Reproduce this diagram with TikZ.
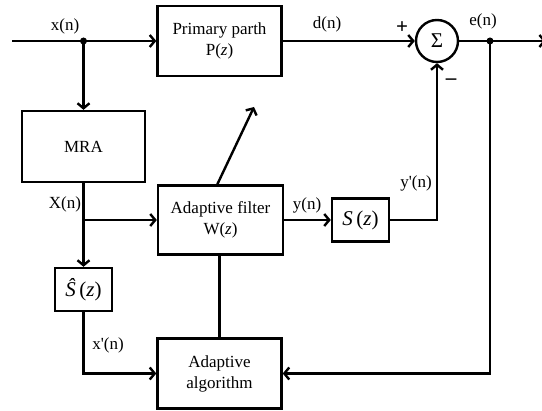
\documentclass[tikz,border=0pt]{standalone}
\usepackage{fontspec}
\setmainfont{Liberation Serif}
\usetikzlibrary{arrows.meta}
\begin{document}
\begin{tikzpicture}[x=1pt,y=-1pt, line width=2.4pt,
  >={Straight Barb[length=5pt,width=12pt]},
  box/.style={draw, line width=2.4pt, inner sep=0pt, align=center, font=\fontsize{17}{21}\selectfont},
  lbl/.style={font=\fontsize{17}{20}\selectfont, inner sep=0pt},
  mth/.style={font=\fontsize{21}{24}\selectfont},
  sgn/.style={font=\bfseries\fontsize{21}{21}\selectfont, inner sep=0pt},
  dot/.style={circle, fill, inner sep=0pt, minimum size=7pt}]
\useasboundingbox (0,0) rectangle (542,411);
% blocks
\node[box, minimum width=124pt, minimum height=70pt] (prim) at (219.5,41) {Primary parth\\P(\textit{z})};
\node[box, circle, minimum size=42pt, font=\fontsize{21}{21}\selectfont] (sum) at (437,41) {Σ};
\node[box, minimum width=123pt, minimum height=71pt] (mra) at (83.5,146.5) {MRA};
\node[box, minimum width=125pt, minimum height=69pt] (filt) at (220.5,220) {Adaptive filter\\W(\textit{z})};
\node[box, mth, minimum width=57pt, minimum height=43pt] (sbox) at (360.5,220) {\textit{S}\,(\textit{z})};
\node[box, mth, minimum width=57pt, minimum height=43pt] (shat) at (83.5,289.5) {\textit{Ŝ}\,(\textit{z})};
\node[box, minimum width=124pt, minimum height=70pt] (algo) at (219.5,373.5) {Adaptive\\algorithm};
% junctions and free ends
\coordinate (in) at (12,41);
\node[dot] (j1) at (83.5,41) {};
\node[dot] (j3) at (490,41) {};
\coordinate (j2) at (83.5,220);
\coordinate (out) at (546,41);
\coordinate (dA) at (217,185);
\coordinate (dB) at (254,107);
% connectors
\draw[->] (in) -- (prim.west);
\draw[->] (j1.center) -- (mra.north);
\draw[->] (prim.east) -- (sum.west);
\draw[->] (sum.east) -- (out);
\draw[->] (j3.center) |- (algo.east);
\draw[->] (mra.south) -- (shat.north);
\draw[->] (j2) -- (filt.west);
\draw[->] (filt.east) -- (sbox.west);
\draw[->] (sbox.east) -| (sum.south);
\draw[->] (shat.south) |- (algo.west);
\draw (algo.north) -- (algo.north |- filt.south);
\draw[->] (dA) -- (dB);
% labels
\node[lbl] (lx) at (65,26) {x(n)};
\node[lbl] (ld) at (327,24) {d(n)};
\node[lbl] (le) at (483,21) {e(n)};
\node[sgn] (lp) at (402,28) {+};
\node[sgn] (lm) at (451,82) {\textendash};
\node[lbl] (lyp) at (416,183) {y\textquotesingle(n)};
\node[lbl] (lX) at (65,204) {X(n)};
\node[lbl] (ly) at (307,205) {y(n)};
\node[lbl] (lxp) at (108,345) {x\textquotesingle(n)};
\end{tikzpicture}
\end{document}
